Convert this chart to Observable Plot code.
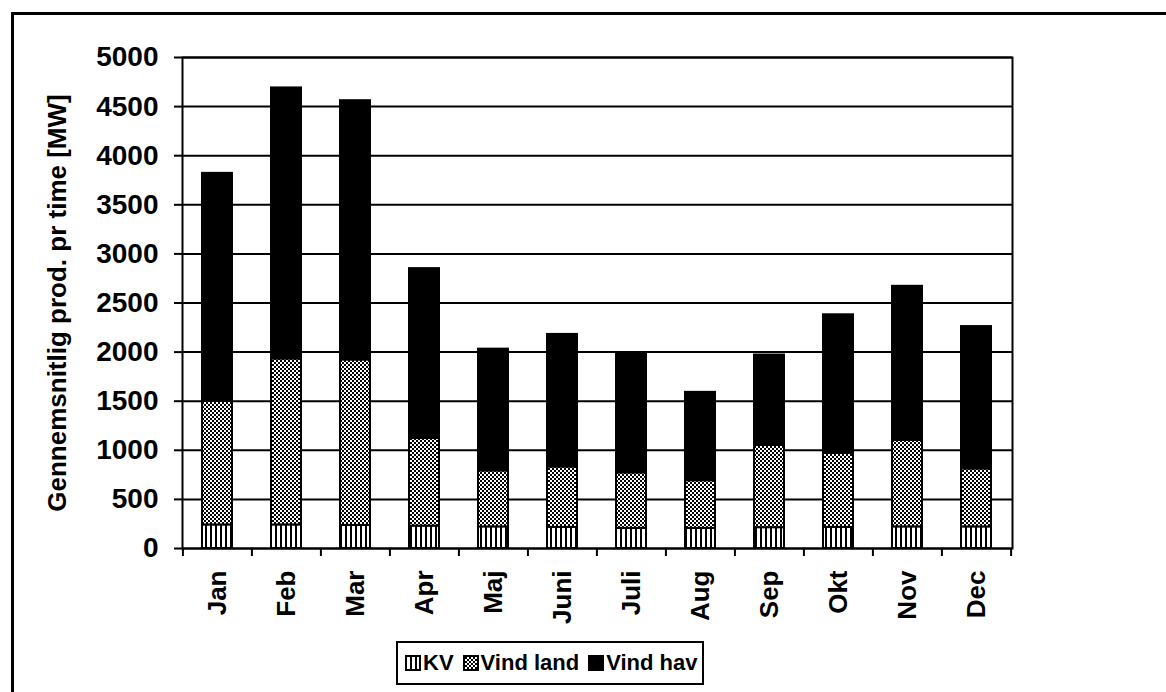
<!DOCTYPE html>
<html>
<head>
<meta charset="utf-8">
<script src="https://cdn.jsdelivr.net/npm/d3@7"></script>
<script src="https://cdn.jsdelivr.net/npm/@observablehq/plot@0.6"></script>
<style>
  body { margin: 0; background: #fff; font-family: "Liberation Sans", Arial, sans-serif; }
  #wrap { position: relative; width: 1166px; height: 692px; overflow: hidden; background: #fff; }
  #frame { position: absolute; left: 11px; top: 12px; width: 1300px; height: 800px;
           border-left: 3px solid #000; border-top: 3px solid #000; }
  #chart { position: absolute; left: 0; top: 0; }
  #legend { position: absolute; left: 396px; top: 641px; height: 40px; padding: 0 5px 0 7px;
            border: 2px solid #000; display: flex; align-items: center; background: #fff;
            font: bold 22px "Liberation Sans", Arial, sans-serif; color: #000; white-space: nowrap; }
  #legend .item { display: flex; align-items: center; margin-right: 9px; }
  #legend .item:last-child { margin-right: 0; }
  #legend svg { margin-right: 2px; }
</style>
</head>
<body>
<svg width="0" height="0" style="position:absolute">
  <defs>
    <pattern id="pat-kv" patternUnits="userSpaceOnUse" width="5" height="5">
      <rect width="5" height="5" fill="#fff"/>
      <rect x="0" width="2" height="5" fill="#000"/>
    </pattern>
    <pattern id="pat-land" patternUnits="userSpaceOnUse" width="4" height="4">
      <rect width="4" height="4" fill="#fff"/>
      <rect x="0" y="0" width="2" height="2" fill="#000"/>
      <rect x="2" y="2" width="2" height="2" fill="#000"/>
    </pattern>
  </defs>
</svg>
<div id="wrap">
  <div id="frame"></div>
  <div id="chart"></div>
  <div id="legend"></div>
</div>
<script>
const months = ["Jan", "Feb", "Mar", "Apr", "Maj", "Juni", "Juli", "Aug", "Sep", "Okt", "Nov", "Dec"];
const seriesNames = ["KV", "Vind land", "Vind hav"];
// cumulative tops, converted to segment values below
const kv       = [240, 240, 235, 228, 220, 215, 205, 205, 212, 215, 220, 220];
const landTop  = [1500, 1930, 1920, 1120, 790, 830, 770, 690, 1050, 970, 1100, 810];
const totalTop = [3820, 4690, 4560, 2850, 2030, 2180, 1980, 1590, 1970, 2380, 2670, 2260];
const vindLand = landTop.map((v, i) => v - kv[i]);
const vindHav  = totalTop.map((v, i) => v - landTop[i]);
const yTicks = [0, 500, 1000, 1500, 2000, 2500, 3000, 3500, 4000, 4500, 5000];
const fills = ["url(#pat-kv)", "url(#pat-land)", "#000"];

const rows = [];
months.forEach((m, i) => {
  rows.push({month: m, series: "KV", value: kv[i]});
  rows.push({month: m, series: "Vind land", value: vindLand[i]});
  rows.push({month: m, series: "Vind hav", value: vindHav[i]});
});

const W = 1166, H = 636;
const mL = 182, mR = 154, mT = 57, mB = 88;
const step = (W - mL - mR) / months.length;
const font = "Liberation Sans, Arial, sans-serif";

const chart = Plot.plot({
  width: W,
  height: H,
  marginLeft: mL,
  marginRight: mR,
  marginTop: mT,
  marginBottom: mB,
  style: {fontFamily: font, fontSize: "26px", fontWeight: "bold", color: "#000", background: "transparent", overflow: "visible"},
  x: {domain: months, paddingInner: 0.56, paddingOuter: 0.28, label: null},
  y: {domain: [0, 5000], label: null},
  color: {domain: seriesNames, range: fills},
  marks: [
    Plot.ruleY(yTicks, {stroke: "#000", strokeWidth: 2}),
    Plot.barY(rows, Plot.stackY({x: "month", y: "value", fill: "series", order: seriesNames, stroke: "#000", strokeWidth: 2})),
    Plot.frame({stroke: "#000", strokeWidth: 2}),
    Plot.axisY({ticks: yTicks, tickSize: 8, tickPadding: 16, tickFormat: d => String(d), strokeWidth: 2, fontSize: 28, label: null}),
    Plot.axisX({tickSize: 8, dx: -step / 2, tickFormat: () => "", strokeWidth: 2, label: null}),
    Plot.axisX({ticks: [months[months.length - 1]], tickSize: 8, dx: step / 2, tickFormat: () => "", strokeWidth: 2, label: null}),
    Plot.axisX({tickSize: 0, tickPadding: 22, tickRotate: -90, fontSize: 26, label: null}),
    Plot.text(["Gennemsnitlig prod. pr time [MW]"], {
      frameAnchor: "left", dx: -125, rotate: -90, textAnchor: "middle", lineAnchor: "middle",
      fontSize: 26, fontWeight: "bold", fill: "#000"
    })
  ]
});
document.getElementById("chart").appendChild(chart);

const legend = document.getElementById("legend");
seriesNames.forEach((name, i) => {
  const item = document.createElement("div");
  item.className = "item";
  item.innerHTML = `<svg width="16" height="16"><rect x="1" y="1" width="14" height="14" fill="${fills[i]}" stroke="#000" stroke-width="2"/></svg><span>${name}</span>`;
  legend.appendChild(item);
});
</script>
</body>
</html>
